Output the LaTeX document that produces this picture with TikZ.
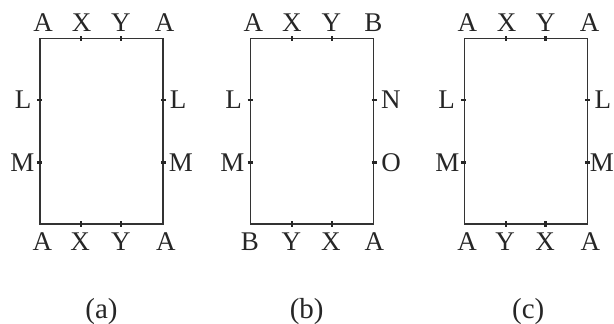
\documentclass[tikz,border=0pt]{standalone}
\usepackage{fontspec}
\setmainfont{Liberation Serif}
\begin{document}
\begin{tikzpicture}[x=1pt,y=-1pt,
  frame/.style={line width=1.2pt, draw=black!80},
  tickmark/.style={line width=2.4pt, draw=black!85},
  lab/.style={font=\fontsize{27}{30}\selectfont, inner sep=0pt, anchor=base, text=black!85},
  captext/.style={font=\fontsize{29}{32}\selectfont, inner sep=0pt, anchor=base, text=black!85}]
\useasboundingbox (0,0) rectangle (614,324);
% ---------- panel (a)
\coordinate (a-nw) at (40,38.3);
\coordinate (a-se) at (163,224);
\draw[frame] (a-nw) rectangle (a-se);
\draw[tickmark] (81,36) -- (81,41) (121,36) -- (121,41)
                (81,221) -- (81,226.5) (121,221) -- (121,226.5)
                (37,100.2) -- (42,100.2) (37,162.4) -- (42,162.4)
                (161,100.2) -- (166,100.2) (161,162.4) -- (166,162.4);
\node[lab] (a-t1) at (43,31.7) {A};
\node[lab] (a-t2) at (81.7,31.7) {X};
\node[lab] (a-t3) at (120.8,31.7) {Y};
\node[lab] (a-t4) at (164.5,31.7) {A};
\node[lab] (a-b1) at (42.3,250) {A};
\node[lab] (a-b2) at (80.2,250) {X};
\node[lab] (a-b3) at (120.8,250) {Y};
\node[lab] (a-b4) at (165.8,250) {A};
\node[lab] (a-l1) at (23.2,108.3) {L};
\node[lab] (a-l2) at (22.5,171.7) {M};
\node[lab] (a-r1) at (178.2,108.3) {L};
\node[lab] (a-r2) at (180.8,171.7) {M};
\node[captext] (a-cap) at (101.5,318.5) {(a)};
% ---------- panel (b)
\coordinate (b-nw) at (250.7,38.3);
\coordinate (b-se) at (373.7,224);
\draw[frame] (b-nw) rectangle (b-se);
\draw[tickmark] (291.7,36) -- (291.7,41) (331.7,36) -- (331.7,41)
                (291.7,221) -- (291.7,226.5) (331.7,221) -- (331.7,226.5)
                (247.7,100.2) -- (252.7,100.2) (247.7,162.4) -- (252.7,162.4)
                (371.7,100.2) -- (376.7,100.2) (371.7,162.4) -- (376.7,162.4);
\node[lab] (b-t1) at (253.3,31.7) {A};
\node[lab] (b-t2) at (291.8,31.7) {X};
\node[lab] (b-t3) at (331.3,31.7) {Y};
\node[lab] (b-t4) at (373.3,31.7) {B};
\node[lab] (b-b1) at (250,250) {B};
\node[lab] (b-b2) at (291.3,250) {Y};
\node[lab] (b-b3) at (330.8,250) {X};
\node[lab] (b-b4) at (374.3,250) {A};
\node[lab] (b-l1) at (233.5,108.3) {L};
\node[lab] (b-l2) at (232.5,171.7) {M};
\node[lab] (b-r1) at (390.8,108.3) {N};
\node[lab] (b-r2) at (391,171.7) {O};
\node[captext] (b-cap) at (306.7,318.5) {(b)};
% ---------- panel (c)
\coordinate (c-nw) at (464.3,38.3);
\coordinate (c-se) at (587.3,224);
\draw[frame] (c-nw) rectangle (c-se);
\draw[tickmark] (505.8,36) -- (505.8,41) (545.6,36) -- (545.6,41)
                (505.8,221) -- (505.8,226.5) (545.6,221) -- (545.6,226.5)
                (461.3,100.2) -- (466.3,100.2) (461.3,162.4) -- (466.3,162.4)
                (585.3,100.2) -- (590.3,100.2) (585.3,162.4) -- (590.3,162.4);
\node[lab] (c-t1) at (467.3,31.7) {A};
\node[lab] (c-t2) at (506.7,31.7) {X};
\node[lab] (c-t3) at (545.5,31.7) {Y};
\node[lab] (c-t4) at (589.7,31.7) {A};
\node[lab] (c-b1) at (467,250) {A};
\node[lab] (c-b2) at (505,250) {Y};
\node[lab] (c-b3) at (545.2,250) {X};
\node[lab] (c-b4) at (590.3,250) {A};
\node[lab] (c-l1) at (446.7,108.3) {L};
\node[lab] (c-l2) at (447.5,171.7) {M};
\node[lab] (c-r1) at (602.8,108.3) {L};
\node[lab] (c-r2) at (601.8,171.7) {M};
\node[captext] (c-cap) at (528.3,318.5) {(c)};
\end{tikzpicture}
\end{document}
